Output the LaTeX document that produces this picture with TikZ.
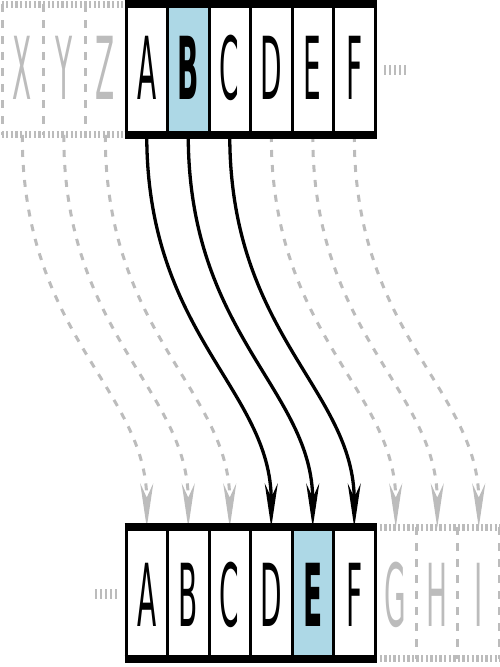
\documentclass[tikz,border=0pt]{standalone}
\usepackage{fontspec}
\setmainfont{DejaVu Sans}
\usetikzlibrary{arrows.meta}
\definecolor{ghost}{RGB}{188,188,188}
\definecolor{hl}{RGB}{173,216,230}
\begin{document}
\begin{tikzpicture}[x=1pt,y=1pt,
 cellT/.style={minimum width=41.5pt, minimum height=130.5pt, inner sep=0pt, outer sep=0pt, draw=none},
 cellB/.style={minimum width=41.5pt, minimum height=131.5pt, inner sep=0pt, outer sep=0pt, draw=none},
 letter/.style={font=\fontsize{28}{30}\selectfont, yscale=3.1, inner sep=0pt, anchor=base},
 ghosttxt/.style={letter, text=ghost},
 hframe/.style={line width=8pt},
 vframe/.style={line width=3pt},
 hghost/.style={ghost, line width=7pt, dash pattern=on 2.3pt off 2.3pt},
 vghost/.style={ghost, line width=3pt, dash pattern=on 8pt off 8pt},
 dots/.style={ghost, line width=10pt, dash pattern=on 2.3pt off 2.7pt},
 move/.style={line width=3.3pt, -{Stealth[length=44pt, width=13pt, inset=14pt]}},
 ghostmove/.style={ghost, line width=3pt, dash pattern=on 7pt off 8pt, -{Stealth[length=44pt, width=13pt, inset=14pt]}},
]
\useasboundingbox (0,0) rectangle (500,667);
% top row cells
\node[cellT] (tX) at (22.25,597.25) {};
\node[cellT] (tY) at (63.75,597.25) {};
\node[cellT] (tZ) at (105.25,597.25) {};
\node[cellT] (tA) at (146.75,597.25) {};
\node[cellT, fill=hl] (tB) at (188.25,597.25) {};
\node[cellT] (tC) at (229.75,597.25) {};
\node[cellT] (tD) at (271.25,597.25) {};
\node[cellT] (tE) at (312.75,597.25) {};
\node[cellT] (tF) at (354.25,597.25) {};
% bottom row cells
\node[cellB] (bA) at (146.75,73.75) {};
\node[cellB] (bB) at (188.25,73.75) {};
\node[cellB] (bC) at (229.75,73.75) {};
\node[cellB] (bD) at (271.25,73.75) {};
\node[cellB, fill=hl] (bE) at (312.75,73.75) {};
\node[cellB] (bF) at (354.25,73.75) {};
\node[cellB] (bG) at (395.75,73.75) {};
\node[cellB] (bH) at (437.25,73.75) {};
\node[cellB] (bI) at (478.75,73.75) {};
% connectors
\foreach \s/\t in {X/A,Y/B,Z/C,D/G,E/H,F/I}
  \draw[ghostmove] (t\s.south) .. controls +(0,-200) and +(0,138) .. (b\t.north);
\foreach \s/\t in {A/D,B/E,C/F}
  \draw[move] (t\s.south) .. controls +(0,-200) and +(0,138) .. (b\t.north);
% ghost frames
\draw[hghost] (tX.north west) -- (tZ.north east);
\draw[hghost] (tX.south west) -- (tZ.south east);
\foreach \c in {X,Y,Z}
  \draw[vghost] ([xshift=0.5pt]t\c.north west) -- ([xshift=0.5pt]t\c.south west);
\draw[hghost] (bG.north west) -- (bI.north east);
\draw[hghost] (bG.south west) -- (bI.south east);
\foreach \c in {G,H,I}
  \draw[vghost] ([xshift=-0.5pt]b\c.north east) -- ([xshift=-0.5pt]b\c.south east);
% black frames
\draw[hframe] ([xshift=-1.5pt]tA.north west) -- ([xshift=1.5pt]tF.north east);
\draw[hframe] ([xshift=-1.5pt]tA.south west) -- ([xshift=1.5pt]tF.south east);
\draw[hframe] ([xshift=-1.5pt]bA.north west) -- ([xshift=1.5pt]bF.north east);
\draw[hframe] ([xshift=-1.5pt]bA.south west) -- ([xshift=1.5pt]bF.south east);
\foreach \c in {A,B,C,D,E,F} {
  \draw[vframe] (t\c.north west) -- (t\c.south west);
  \draw[vframe] (b\c.north west) -- (b\c.south west);
}
\draw[vframe] (tF.north east) -- (tF.south east);
\draw[vframe] (bF.north east) -- (bF.south east);
% continuation dots
\coordinate (dt1) at (384,597);
\coordinate (dt2) at (406,597);
\coordinate (db1) at (95,72.5);
\coordinate (db2) at (117,72.5);
\draw[dots] (dt1) -- (dt2);
\draw[dots] (db1) -- (db2);
% letters
\coordinate (topbase) at (0,567);
\coordinate (botbase) at (0,40);
\node[ghosttxt] (lX) at (tX |- topbase) {X};
\node[ghosttxt] (lY) at (tY |- topbase) {Y};
\node[ghosttxt] (lZ) at (tZ |- topbase) {Z};
\node[letter] (lA) at (tA |- topbase) {A};
\node[letter, font=\fontsize{28}{30}\selectfont\bfseries] (lB) at (tB |- topbase) {B};
\node[letter] (lC) at (tC |- topbase) {C};
\node[letter] (lD) at (tD |- topbase) {D};
\node[letter] (lE) at (tE |- topbase) {E};
\node[letter] (lF) at (tF |- topbase) {F};
\node[letter] (mA) at (bA |- botbase) {A};
\node[letter] (mB) at (bB |- botbase) {B};
\node[letter] (mC) at (bC |- botbase) {C};
\node[letter] (mD) at (bD |- botbase) {D};
\node[letter, font=\fontsize{28}{30}\selectfont\bfseries] (mE) at (bE |- botbase) {E};
\node[letter] (mF) at (bF |- botbase) {F};
\node[ghosttxt] (mG) at (bG |- botbase) {G};
\node[ghosttxt] (mH) at (bH |- botbase) {H};
\node[ghosttxt] (mI) at (bI |- botbase) {I};
\end{tikzpicture}
\end{document}
